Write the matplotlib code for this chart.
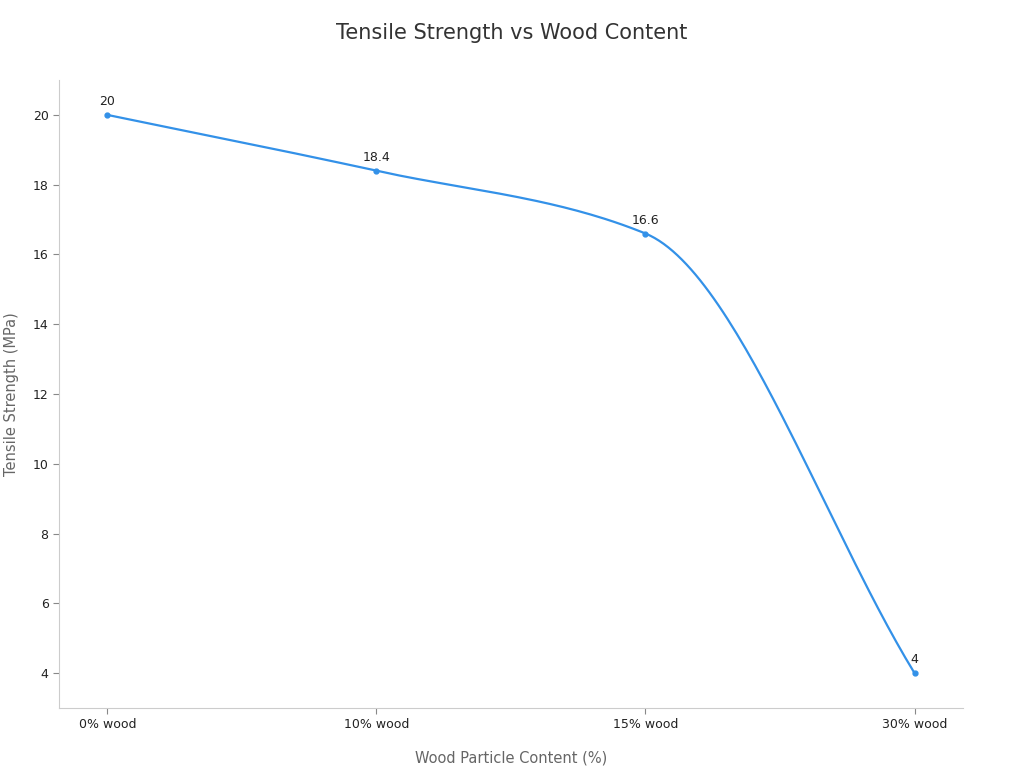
import numpy as np
import matplotlib
matplotlib.use("Agg")
import matplotlib.pyplot as plt

categories = ["0% wood", "10% wood", "15% wood", "30% wood"]
values = [20, 18.4, 16.6, 4]
labels = ["20", "18.4", "16.6", "4"]

def monotone(x, y, n=60):
    x = np.asarray(x, float); y = np.asarray(y, float)
    h = np.diff(x); d = np.diff(y) / h
    m = np.zeros_like(y)
    m[0], m[-1] = d[0], d[-1]
    for i in range(1, len(y) - 1):
        if d[i-1] * d[i] <= 0:
            m[i] = 0
        else:
            m[i] = 2 / (1 / d[i-1] + 1 / d[i])
    xs, ys = [], []
    for i in range(len(x) - 1):
        t = np.linspace(0, 1, n)
        h00 = 2*t**3 - 3*t**2 + 1; h10 = t**3 - 2*t**2 + t
        h01 = -2*t**3 + 3*t**2; h11 = t**3 - t**2
        xs.append(x[i] + t*h[i])
        ys.append(h00*y[i] + h10*h[i]*m[i] + h01*y[i+1] + h11*h[i]*m[i+1])
    return np.concatenate(xs), np.concatenate(ys)

fig = plt.figure(figsize=(10.24, 7.68), dpi=100)
ax = fig.add_axes([0.0576, 0.0781, 0.8828, 0.8177])
pos = np.arange(len(categories))
color = "#3391e8"
sx, sy = monotone(pos, values)
ax.plot(sx, sy, color=color, lw=1.6)
ax.plot(pos, values, "o", color=color, ms=3.5)
for p, v, l in zip(pos, values, labels):
    ax.annotate(l, (p, v), xytext=(0, 5), textcoords="offset points",
                ha="center", va="bottom", fontsize=9, color="#222222")
ax.set_xlim(-0.18, 3.18)
ax.set_ylim(3, 21)
ax.set_xticks(pos)
ax.set_xticklabels(categories)
ax.set_yticks([4, 6, 8, 10, 12, 14, 16, 18, 20])
ax.tick_params(labelsize=9, colors="#222222", length=4)
ax.tick_params(axis="both", color="#888888")
for s in ["top", "right"]:
    ax.spines[s].set_visible(False)
for s in ["left", "bottom"]:
    ax.spines[s].set_color("#cccccc")
ax.set_xlabel("Wood Particle Content (%)", fontsize=10.5, color="#666666", labelpad=14)
ax.set_ylabel("Tensile Strength (MPa)", fontsize=10.5, color="#666666", labelpad=10)
fig.suptitle("Tensile Strength vs Wood Content", fontsize=15, color="#333333", y=0.97)
fig.savefig("out.png", dpi=100)
